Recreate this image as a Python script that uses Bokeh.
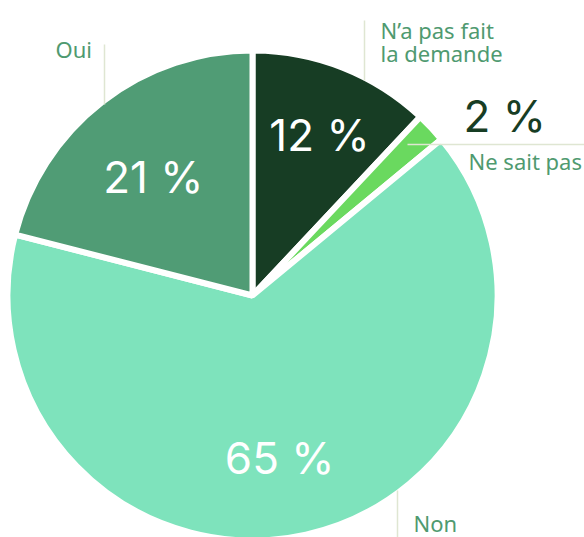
import numpy as np
from bokeh.plotting import figure
from bokeh.models import Range1d, ColumnDataSource
from bokeh.core.properties import value
from bokeh.embed import file_html
from bokeh.resources import INLINE

# ---- data ----
categories = ["N’a pas fait\nla demande", "Ne sait pas", "Non", "Oui"]
percent = [12, 2, 65, 21]
value_labels = ["12 %", "2 %", "65 %", "21 %"]
slice_colors = ["#173d24", "#6ad95f", "#7ee3bc", "#509c75"]

# ---- layout (page-pixel style coordinates: y measured upward = 537 - page_y) ----
PAGE_H = 537
cx, cy = 252, PAGE_H - 295
R = 245
# (radius factor, angle offset in degrees) for values drawn inside the slices
inside_pos = [(0.717, -1.1), None, (0.68, -3.1), (0.64, 2.0)]

p = figure(width=584, height=537, x_range=Range1d(0, 584), y_range=Range1d(0, 537),
           output_backend="svg", toolbar_location=None, min_border=0)
p.axis.visible = False
p.grid.visible = False
p.outline_line_color = None
p.background_fill_color = "white"
p.border_fill_color = "white"

frac = np.array(percent, dtype=float) / np.sum(percent)
cum = np.concatenate([[0.0], np.cumsum(frac)])
start_deg = 90 - cum[1:] * 360
end_deg = 90 - cum[:-1] * 360
mid_deg = (start_deg + end_deg) / 2

src = ColumnDataSource(dict(start=np.radians(start_deg), end=np.radians(end_deg),
                            color=slice_colors, cat=categories))
p.wedge(x=cx, y=cy, radius=R, start_angle="start", end_angle="end",
        direction="anticlock", fill_color="color", line_color="white",
        line_width=6, source=src)

num_font = value("Inter")

# inside value labels
xs, ys, ts = [], [], []
for i, pos in enumerate(inside_pos):
    if pos is None:
        continue
    f, off = pos
    a = np.radians(mid_deg[i] + off)
    xs.append(cx + f * (R - 3) * np.cos(a))
    ys.append(cy + f * (R - 3) * np.sin(a))
    ts.append(value_labels[i])
p.text(x=xs, y=ys, text=ts, text_color="white", text_font=num_font,
       text_font_size="44px", text_align="center", text_baseline="middle")

# small slice value label outside
p.text(x=[463], y=[PAGE_H - 115], text=[value_labels[1]], text_color="#173d24",
       text_font=num_font, text_font_size="44px",
       text_align="left", text_baseline="middle")

# leader lines
lead_color = "#dfe6d2"
p.segment(x0=[104, 364, 397, 407], y0=[PAGE_H - 44, PAGE_H - 20, PAGE_H - 490, PAGE_H - 144],
          x1=[104, 364, 397, 584], y1=[PAGE_H - 104, PAGE_H - 80, PAGE_H - 540, PAGE_H - 144],
          line_color=lead_color, line_width=1.5)

# category labels
lab_color = "#4f9a70"
lab_font = value("Noto Sans")
lab_size = "22px"
p.text(x=[55], y=[PAGE_H - 48.5], text=[categories[3]], text_color=lab_color,
       text_font=lab_font, text_font_size=lab_size, text_baseline="middle")
p.text(x=[380, 380], y=[PAGE_H - 29, PAGE_H - 52], text=categories[0].split("\n"),
       text_color=lab_color, text_font=lab_font, text_font_size=lab_size,
       text_baseline="middle")
p.text(x=[468], y=[PAGE_H - 160], text=[categories[1]], text_color=lab_color,
       text_font=lab_font, text_font_size=lab_size, text_baseline="middle")
p.text(x=[413], y=[PAGE_H - 522], text=[categories[2]], text_color=lab_color,
       text_font=lab_font, text_font_size=lab_size, text_baseline="middle")

open("out.html", "w").write(file_html(p, INLINE))
